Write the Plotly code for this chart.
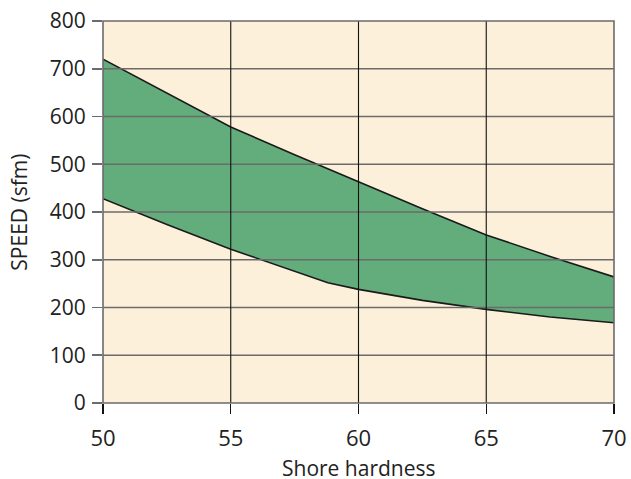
import plotly.graph_objects as go

# Data
upper_x = [50, 52.5, 55, 57.5, 60, 62.5, 65, 67.5, 70]
upper_y = [720, 649, 578, 520, 463, 407, 352, 307, 264]
lower_x = [50, 52.5, 55, 57, 58.8, 60, 62.5, 65, 67.5, 70]
lower_y = [428, 374, 322, 285, 252, 238, 215, 196, 180, 168]

x_ticks = [50, 55, 60, 65, 70]
y_ticks = [0, 100, 200, 300, 400, 500, 600, 700, 800]
x_title = "Shore hardness"
y_title = "SPEED (sfm)"

BG = "#fdf0da"
GREEN = "#63ad7d"
GRAY = "#6b6b6b"
TEXT = "#222222"
FONT = "Open Sans"

fig = go.Figure()
fig.add_trace(go.Scatter(x=lower_x, y=lower_y, mode="lines",
                         line=dict(color="#1a1a1a", width=1.6),
                         showlegend=False, hoverinfo="skip"))
fig.add_trace(go.Scatter(x=upper_x, y=upper_y, mode="lines",
                         line=dict(color="#1a1a1a", width=1.6),
                         fill="tonexty", fillcolor=GREEN,
                         showlegend=False, hoverinfo="skip"))

shapes = []
for v in y_ticks[1:-1]:
    shapes.append(dict(type="line", xref="paper", yref="y", x0=0, x1=1, y0=v, y1=v,
                       line=dict(color=GRAY, width=1.6), layer="above"))
for v in x_ticks[1:-1]:
    shapes.append(dict(type="line", xref="x", yref="paper", x0=v, x1=v, y0=0, y1=1,
                       line=dict(color="#111111", width=1.1), layer="above"))
shapes.append(dict(type="rect", xref="paper", yref="paper", x0=0, x1=1, y0=0, y1=1,
                   line=dict(color=GRAY, width=1.6), layer="above"))

annotations = [
    dict(text=x_title, xref="paper", yref="paper", x=0.5, y=-0.171,
         xanchor="center", yanchor="middle", showarrow=False, borderpad=0,
         font=dict(family=FONT, size=21, color=TEXT)),
    dict(text=y_title, xref="paper", yref="paper", x=-0.165, y=0.5,
         xanchor="center", yanchor="middle", showarrow=False, textangle=-90,
         font=dict(family=FONT, size=21, color=TEXT)),
]

fig.update_layout(
    width=631, height=479,
    margin=dict(l=103, r=17, t=21, b=76, autoexpand=False),
    paper_bgcolor="white", plot_bgcolor=BG,
    font=dict(family=FONT, size=21, color=TEXT),
    shapes=shapes, annotations=annotations,
)
fig.update_xaxes(range=[50, 70], tickvals=x_ticks, ticktext=[str(t) for t in x_ticks],
                 showgrid=False, zeroline=False, showline=False, automargin=False,
                 ticks="outside", ticklen=10, tickwidth=1.1, tickcolor="#111111",
                 tickfont=dict(family=FONT, size=22, color=TEXT),
                 ticklabelstandoff=6, ticklabeloverflow="allow")
fig.update_yaxes(range=[0, 800], tickvals=y_ticks, ticktext=[str(t) for t in y_ticks],
                 showgrid=False, zeroline=False, showline=False, automargin=False,
                 ticks="outside", ticklen=10, tickwidth=1.6, tickcolor=GRAY,
                 tickfont=dict(family=FONT, size=21, color=TEXT),
                 ticklabelstandoff=2, ticklabeloverflow="allow")

fig.write_html("out.html", config={"displayModeBar": False, "staticPlot": True},
               post_script="document.body.style.margin='0';document.body.style.overflow='hidden';")
